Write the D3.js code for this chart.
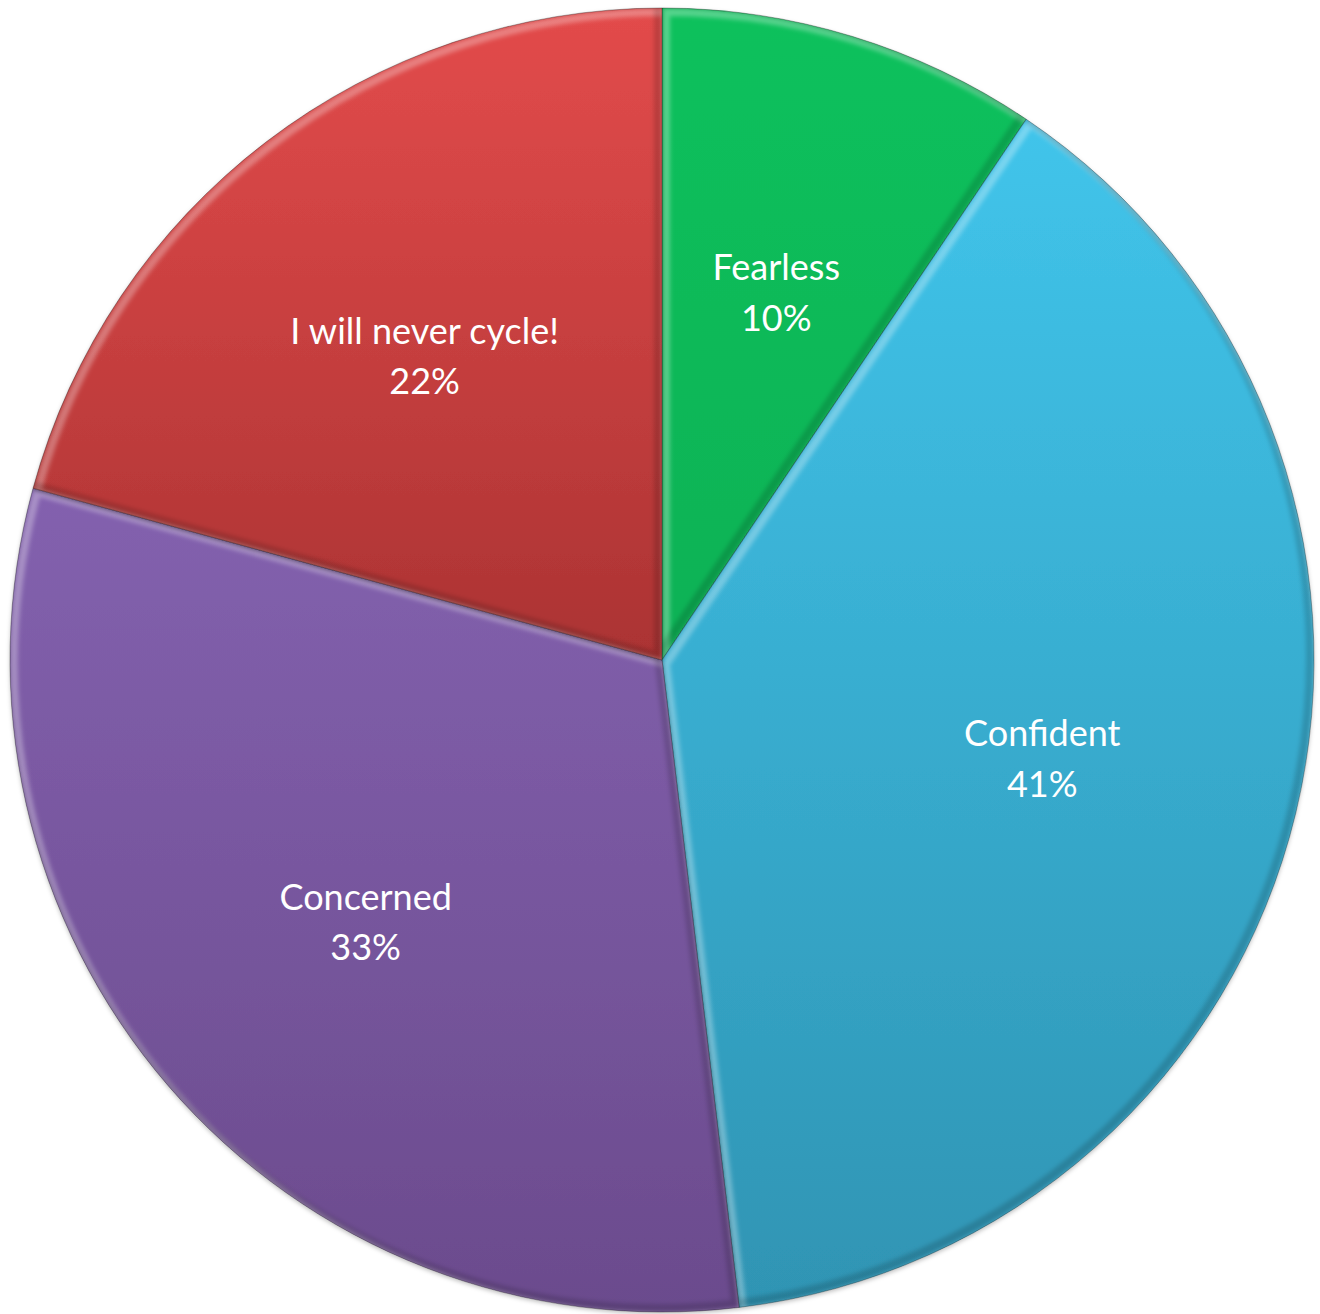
<!DOCTYPE html>
<html>
<head>
<meta charset="utf-8">
<script src="https://cdn.jsdelivr.net/npm/d3@7"></script>
<style>
  html, body { margin: 0; padding: 0; background: #ffffff; }
  svg { display: block; }
</style>
</head>
<body>
<svg id="chart" width="1320" height="1314"></svg>
<script>
// Survey answers: how people feel about cycling
const categories = ["Fearless", "Confident", "Concerned", "I will never cycle!"];
const values = [10, 41, 33, 22];
const valueLabels = ["10%", "41%", "33%", "22%"];
// top / bottom shades for each slice's vertical gradient
const topColors = ["#0cc15c", "#42c9f0", "#916ec2", "#e34b4b"];
const bottomColors = ["#05a24f", "#2f94b3", "#6b4b8d", "#731b1b"];

const width = 1320, height = 1314;
const cx = 662, cy = 660, R = 652;

const svg = d3.select("#chart");
const defs = svg.append("defs");

// gradients live in the pie group's coordinates (origin at the centre)
categories.forEach((c, i) => {
  const g = defs.append("linearGradient")
    .attr("id", "grad" + i)
    .attr("gradientUnits", "userSpaceOnUse")
    .attr("x1", 0).attr("y1", -R)
    .attr("x2", 0).attr("y2", R);
  g.append("stop").attr("offset", 0).attr("stop-color", topColors[i]);
  g.append("stop").attr("offset", 1).attr("stop-color", bottomColors[i]);
});

const soft = defs.append("filter").attr("id", "soft")
  .attr("x", "-5%").attr("y", "-5%").attr("width", "110%").attr("height", "110%");
soft.append("feGaussianBlur").attr("stdDeviation", 2.2);

const shadow = defs.append("filter").attr("id", "shadow")
  .attr("x", "-5%").attr("y", "-5%").attr("width", "110%").attr("height", "110%");
shadow.append("feDropShadow").attr("dx", 0).attr("dy", 2).attr("stdDeviation", 2)
  .attr("flood-color", "#000").attr("flood-opacity", 0.25);

const pie = d3.pie().value(d => d).sort(null);
const arcs = pie(values);
const arc = d3.arc().innerRadius(0).outerRadius(R);
const labelArc = d3.arc().innerRadius(R * 0.6).outerRadius(R * 0.6);

const root = svg.append("g").attr("transform", `translate(${cx},${cy})`);

// clip paths so the bevel stays inside its slice
arcs.forEach((a, i) => {
  defs.append("clipPath").attr("id", "clip" + i)
    .append("path")
    .attr("d", arc(a));
});

const slices = root.selectAll("g.slice")
  .data(arcs)
  .join("g")
  .attr("class", "slice");

slices.append("path")
  .attr("d", arc)
  .attr("fill", (d, i) => `url(#grad${i})`)
  .attr("filter", "url(#shadow)");

// bevel: light edge facing up-left, dark edge facing down-right
const d0 = 4;
slices.each(function (a, i) {
  const g = d3.select(this).append("g")
    .attr("clip-path", `url(#clip${i})`);
  g.append("path")
    .attr("d", arc(a))
    .attr("transform", `translate(${d0},${d0})`)
    .attr("fill", "none")
    .attr("stroke", "#ffffff")
    .attr("stroke-opacity", 0.3)
    .attr("stroke-width", d0 * 2)
    .attr("filter", "url(#soft)");
  g.append("path")
    .attr("d", arc(a))
    .attr("transform", `translate(${-d0},${-d0})`)
    .attr("fill", "none")
    .attr("stroke", "#000000")
    .attr("stroke-opacity", 0.16)
    .attr("stroke-width", d0 * 2)
    .attr("filter", "url(#soft)");
});

slices.append("path")
  .attr("d", arc)
  .attr("fill", "none")
  .attr("stroke", "#000")
  .attr("stroke-opacity", 0.3)
  .attr("stroke-width", 1);

const labels = root.selectAll("text.label")
  .data(arcs)
  .join("text")
  .attr("class", "label")
  .attr("transform", d => `translate(${labelArc.centroid(d)})`)
  .attr("text-anchor", "middle")
  .attr("font-family", "Lato, 'Open Sans', sans-serif")
  .attr("font-size", 36)
  .attr("fill", "#ffffff");

labels.append("tspan")
  .attr("x", 0).attr("dy", "-0.15em")
  .text((d, i) => categories[i]);
labels.append("tspan")
  .attr("x", 0).attr("dy", "1.4em")
  .text((d, i) => valueLabels[i]);
</script>
</body>
</html>
